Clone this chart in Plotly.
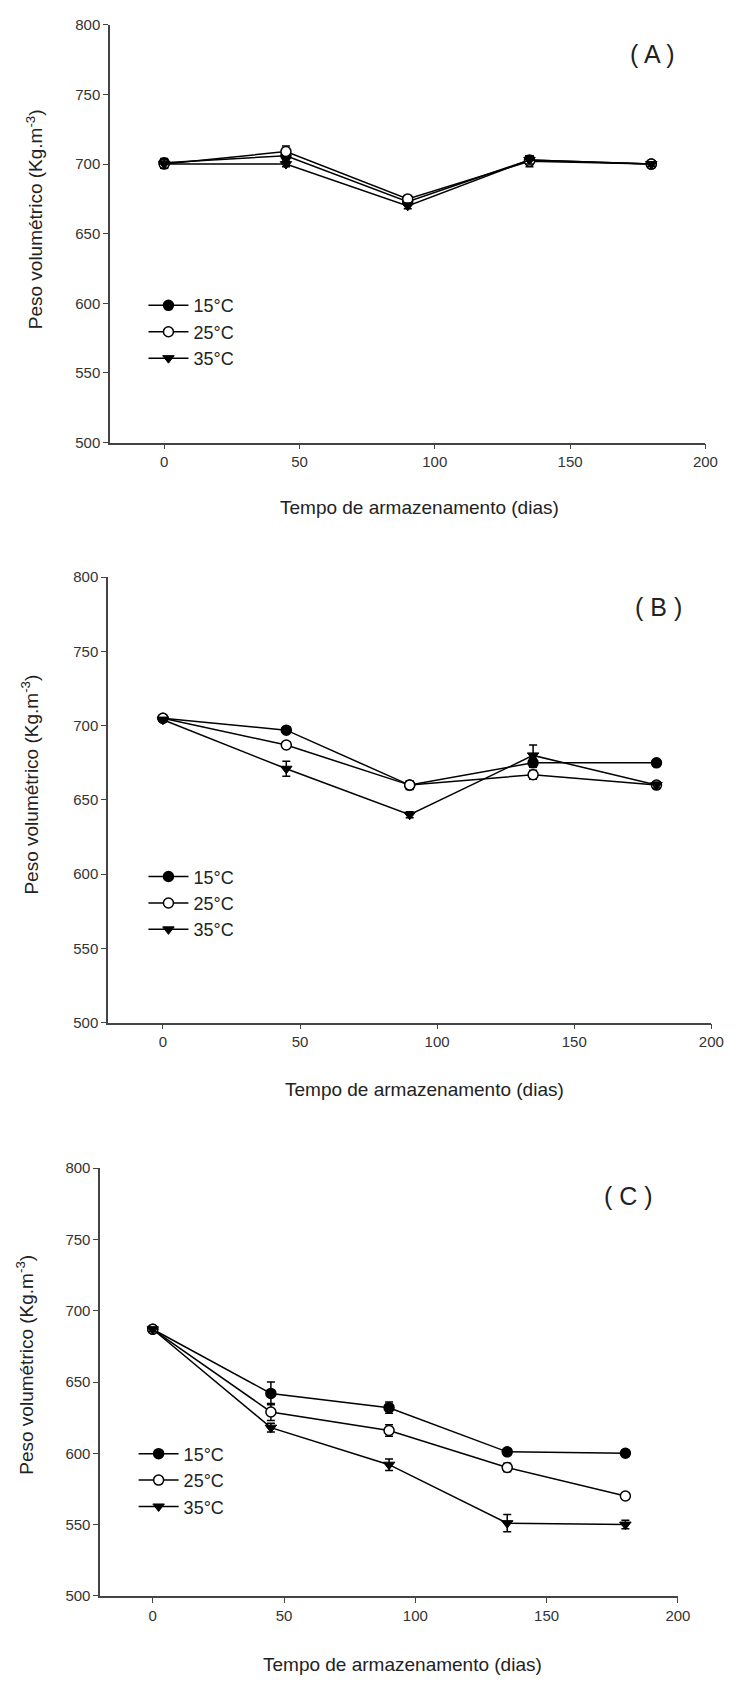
import plotly.graph_objects as go

# Storage time (days)
dias = [0, 45, 90, 135, 180]
temperaturas = ["15°C", "25°C", "35°C"]

# Panel A
a_15 = [701, 706, 673, 703, 700]
a_15_err = [3, 3, 2, 3, 1.5]
a_25 = [700, 709, 675, 702, 700]
a_25_err = [3, 4, 2, 4, 1.5]
a_35 = [700, 700, 670, 703, 700]
a_35_err = [3, 2, 2, 3, 1.5]

# Panel B
b_15 = [705, 697, 660, 675, 675]
b_15_err = [1.5, 2, 2, 3, 2]
b_25 = [705, 687, 660, 667, 660]
b_25_err = [1.5, 2, 3, 3, 2]
b_35 = [704, 671, 640, 680, 660]
b_35_err = [1.5, 5, 2, 7, 2]

# Panel C
c_15 = [687, 642, 632, 601, 600]
c_15_err = [1.5, 8, 4, 2, 2]
c_25 = [687, 629, 616, 590, 570]
c_25_err = [1.5, 6, 4, 3, 2]
c_35 = [687, 618, 592, 551, 550]
c_35_err = [1.5, 3, 4, 6, 3]

x_ticks = [0, 50, 100, 150, 200]
y_ticks = [500, 550, 600, 650, 700, 750, 800]

W, H = 742, 1686
FONT = "Liberation Sans, Arial, sans-serif"
INK = "#222222"
AXIS = "#444444"


def px_x(p):
    return p / W


def px_y(p):
    return 1 - p / H


panels = [
    dict(name="A", series=[(a_15, a_15_err), (a_25, a_25_err), (a_35, a_35_err)],
         xdom=(112, 718), ydom=(16, 438), legend=(146, 281),
         ytitle=(35, 212), xtitle=(427, 504), tag=(664, 45)),
    dict(name="B", series=[(b_15, b_15_err), (b_25, b_25_err), (b_35, b_35_err)],
         xdom=(110, 724), ydom=(574, 1024), legend=(146, 858),
         ytitle=(31, 783), xtitle=(432, 1092), tag=(670, 604)),
    dict(name="C", series=[(c_15, c_15_err), (c_25, c_25_err), (c_35, c_35_err)],
         xdom=(102, 690), ydom=(1171, 1603), legend=(136, 1441),
         ytitle=(26, 1370), xtitle=(410, 1672), tag=(640, 1199)),
]

marker_styles = [
    dict(symbol="circle", color="black", size=10, line=dict(color="black", width=1.5)),
    dict(symbol="circle", color="white", size=10, line=dict(color="black", width=1.5)),
    dict(symbol="triangle-down", color="black", size=10, line=dict(color="black", width=1)),
]

fig = go.Figure()
layout = dict(
    width=W, height=H,
    margin=dict(l=0, r=0, t=0, b=0),
    paper_bgcolor="white", plot_bgcolor="white",
    font=dict(family=FONT, color=INK),
    annotations=[],
)

for i, p in enumerate(panels, start=1):
    xa = "x" if i == 1 else f"x{i}"
    ya = "y" if i == 1 else f"y{i}"
    leg = "legend" if i == 1 else f"legend{i}"
    for (vals, errs), lab, ms in zip(p["series"], temperaturas, marker_styles):
        fig.add_trace(go.Scatter(
            x=dias, y=vals, mode="lines+markers", name=lab,
            line=dict(color="black", width=1.5),
            marker=ms,
            error_y=dict(type="data", array=errs, visible=True,
                         color="black", thickness=1.5, width=4),
            xaxis=xa, yaxis=ya, legend=leg,
        ))

    axis_common = dict(showline=True, linecolor=AXIS, linewidth=1.5,
                       ticks="outside", ticklen=5, tickwidth=1.2, tickcolor=AXIS,
                       showgrid=False, zeroline=False,
                       tickfont=dict(family=FONT, size=15, color="#333333"))
    xkey = "xaxis" if i == 1 else f"xaxis{i}"
    ykey = "yaxis" if i == 1 else f"yaxis{i}"
    layout[xkey] = dict(axis_common, domain=[px_x(p["xdom"][0]), px_x(p["xdom"][1])],
                        range=[-20, 200], tickvals=x_ticks, anchor=ya)
    layout[ykey] = dict(axis_common, domain=[px_y(p["ydom"][1]), px_y(p["ydom"][0])],
                        range=[500, 800], tickvals=y_ticks, anchor=xa)
    layout[leg] = dict(x=px_x(p["legend"][0]), y=px_y(p["legend"][1]),
                       xanchor="left", yanchor="top",
                       bgcolor="rgba(0,0,0,0)", borderwidth=0,
                       font=dict(family=FONT, size=18, color=INK),
                       itemwidth=40, tracegroupgap=0)

    layout["annotations"] += [
        dict(text="Peso volumétrico (Kg.m<sup>-3</sup>)", textangle=-90,
             x=px_x(p["ytitle"][0]), y=px_y(p["ytitle"][1]),
             xref="paper", yref="paper", showarrow=False,
             xanchor="center", yanchor="middle",
             font=dict(family=FONT, size=19, color=INK)),
        dict(text="Tempo de armazenamento (dias)",
             x=px_x(p["xtitle"][0]), y=px_y(p["xtitle"][1]),
             xref="paper", yref="paper", showarrow=False,
             xanchor="center", yanchor="middle",
             font=dict(family=FONT, size=19, color=INK)),
        dict(text=f"( {p['name']} )",
             x=px_x(p["tag"][0]), y=px_y(p["tag"][1]),
             xref="paper", yref="paper", showarrow=False,
             xanchor="center", yanchor="middle",
             font=dict(family=FONT, size=25, color=INK)),
    ]

fig.update_layout(**layout)
fig.write_html("out.html")
